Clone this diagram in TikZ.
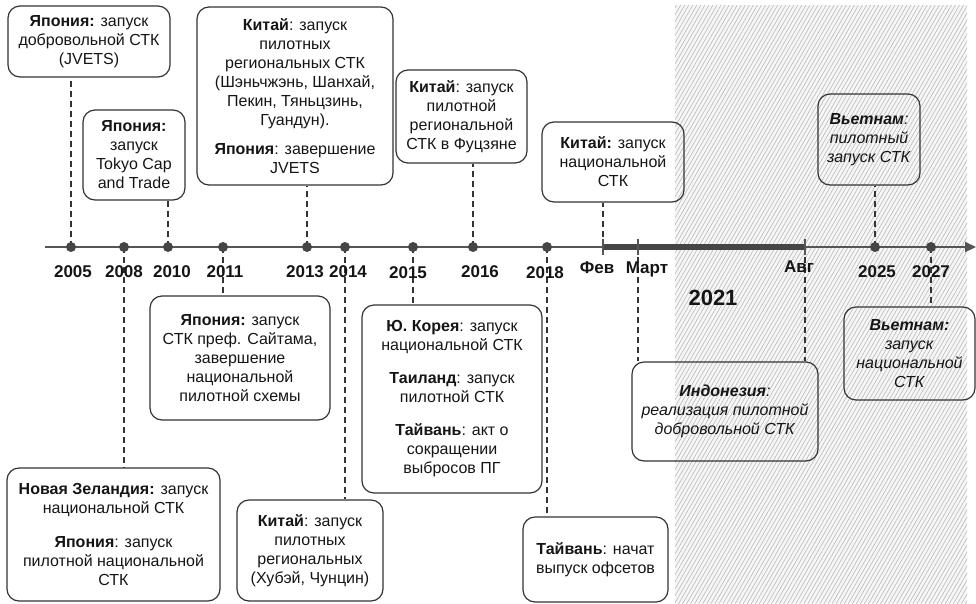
\documentclass[tikz,border=0pt]{standalone}
\usepackage{fontspec}
\setmainfont{Liberation Sans}
\usetikzlibrary{arrows.meta,patterns.meta}
\definecolor{boxc}{HTML}{333333}
\definecolor{dotc}{HTML}{454545}
\definecolor{axc}{HTML}{555555}
\definecolor{txt}{HTML}{151515}
\tikzset{
  evbox/.style={draw=boxc, rounded corners=12pt, line width=1.2pt, align=center, inner sep=2pt, text=txt, font=\fontsize{16}{19}\selectfont},
  conn/.style={draw=boxc, line width=1.2pt, dash pattern=on 6pt off 4pt},
  evdot/.style={circle, fill=dotc, inner sep=0pt, minimum size=10pt},
  yearlab/.style={font=\fontsize{17}{19}\selectfont\bfseries, text=txt, inner sep=0pt},
  tickline/.style={draw=axc, line width=1.6pt}
}
\begin{document}
\begin{tikzpicture}[x=1pt,y=-1pt]
\useasboundingbox (0,0) rectangle (976,603);
\clip (0,0) rectangle (976,603);
% hatched future region
\fill[gray!7] (675,5) rectangle (967,603);
\fill[pattern={Lines[angle=60,distance=3.5pt,line width=0.6pt]}, pattern color=gray!55] (675,5) rectangle (967,603);

% positions on the axis
\coordinate (axs) at (45,247);
\coordinate (axe) at (976,247);
\coordinate (p2005) at (71,247);
\coordinate (p2008) at (124,247);
\coordinate (p2010) at (168,247);
\coordinate (p2011) at (223,247);
\coordinate (p2013) at (307,247);
\coordinate (p2014) at (345,247);
\coordinate (p2015) at (413,247);
\coordinate (p2016) at (473,247);
\coordinate (p2018) at (547,247);
\coordinate (fev) at (603,247);
\coordinate (mart) at (638,247);
\coordinate (avg) at (805,247);
\coordinate (p2025) at (875,247);
\coordinate (p2027) at (931,247);

% boxes above
\node[evbox, minimum width=162pt, minimum height=71pt] (b1) at (89,41.5) {\textbf{Япония:} запуск\\добровольной СТК\\(JVETS)};
\node[evbox, minimum width=102pt, minimum height=90pt] (b2) at (134,155) {\textbf{Япония:}\\запуск\\Tokyo Cap\\and Trade};
\node[evbox, minimum width=196pt, minimum height=178pt] (b3) at (295,96) {\textbf{Китай}: запуск\\пилотных\\региональных СТК\\(Шэньчжэнь, Шанхай,\\Пекин, Тяньцзинь,\\Гуандун).\\[10pt]\textbf{Япония}: завершение\\JVETS};
\node[evbox, minimum width=131pt, minimum height=93pt] (b4) at (461.5,116.5) {\textbf{Китай}: запуск\\пилотной\\региональной\\СТК в Фуцзяне};
\node[evbox, minimum width=142pt, minimum height=80pt] (b5) at (613,162) {\textbf{Китай:} запуск\\национальной\\СТК};
\node[evbox, minimum width=102pt, minimum height=91pt] (b6) at (869,139.5) {\textbf{\textit{Вьетнам}}\textit{:}\\\textit{пилотный}\\\textit{запуск СТК}};

% boxes below
\node[evbox, minimum width=180pt, minimum height=124pt] (b7) at (240,358) {\textbf{Япония:} запуск\\СТК преф. Сайтама,\\завершение\\национальной\\пилотной схемы};
\node[evbox, minimum width=213pt, minimum height=133pt] (b8) at (113.5,534.5) {\textbf{Новая Зеландия:} запуск\\национальной СТК\\[15pt]\textbf{Япония}: запуск\\пилотной национальной\\СТК};
\node[evbox, minimum width=146pt, minimum height=101pt] (b9) at (310,550.5) {\textbf{Китай}: запуск\\пилотных\\региональных\\(Хубэй, Чунцин)};
\node[evbox, minimum width=180pt, minimum height=188pt] (b10) at (452,399) {\textbf{Ю. Корея}: запуск\\национальной СТК\\[14pt]\textbf{Таиланд}: запуск\\пилотной СТК\\[14pt]\textbf{Тайвань}: акт о\\сокращении\\выбросов ПГ};
\node[evbox, minimum width=145pt, minimum height=85pt] (b11) at (595.5,559.5) {\textbf{Тайвань}: начат\\выпуск офсетов};
\node[evbox, minimum width=186pt, minimum height=99pt] (b12) at (725,411.5) {\textbf{\textit{Индонезия}}\textit{:}\\\textit{реализация пилотной}\\\textit{добровольной СТК}};
\node[evbox, minimum width=131pt, minimum height=93pt] (b13) at (909.5,353.5) {\textbf{\textit{Вьетнам:}}\\\textit{запуск}\\\textit{национальной}\\\textit{СТК}};

% dashed connectors
\draw[conn] (p2005) -- (p2005 |- b1.south);
\draw[conn] (p2010) -- (p2010 |- b2.south);
\draw[conn] (p2013) -- (p2013 |- b3.south);
\draw[conn] (p2016) -- (p2016 |- b4.south);
\draw[conn] (fev) -- (fev |- b5.south);
\draw[conn] (p2025) -- (p2025 |- b6.south);
\draw[conn] (p2011) -- (p2011 |- b7.north);
\draw[conn] (p2008) -- (p2008 |- b8.north);
\draw[conn] (p2014) -- (p2014 |- b9.north);
\draw[conn] (p2015) -- (p2015 |- b10.north);
\draw[conn] (p2018) -- (p2018 |- b11.north);
\draw[conn] (mart) -- (mart |- b12.north);
\draw[conn] (avg) -- (avg |- b12.north);
\draw[conn] (p2027) -- (p2027 |- b13.north);

% axis
\draw[draw=axc, line width=2pt, -{Triangle[length=11pt,width=10pt]}] (axs) -- (axe);
\draw[draw=dotc, line width=5.5pt] (fev) -- (avg);
\foreach \c in {fev,mart,avg}{\draw[tickline] ([yshift=-8pt]\c) -- ([yshift=8pt]\c);}

% dots
\foreach \c in {p2005,p2008,p2010,p2011,p2013,p2014,p2015,p2016,p2018,p2025,p2027}{\node[evdot] (d\c) at (\c) {};}

% labels
\node[yearlab] (l2005) at (73,272) {2005};
\node[yearlab] (l2008) at (124,272) {2008};
\node[yearlab] (l2010) at (172,272) {2010};
\node[yearlab] (l2011) at (225,272) {2011};
\node[yearlab] (l2013) at (305,272) {2013};
\node[yearlab] (l2014) at (348,272) {2014};
\node[yearlab] (l2015) at (408,273) {2015};
\node[yearlab] (l2016) at (480,272) {2016};
\node[yearlab] (l2018) at (545,273) {2018};
\node[yearlab] (lfev) at (597,268) {Фев};
\node[yearlab] (lmart) at (647,269) {Март};
\node[yearlab] (lavg) at (799,267) {Авг};
\node[yearlab] (l2025) at (877,272) {2025};
\node[yearlab] (l2027) at (931,272) {2027};
\node[font=\fontsize{22}{24}\selectfont\bfseries, text=txt, inner sep=0pt] (l2021) at (713,298) {2021};
\end{tikzpicture}
\end{document}
